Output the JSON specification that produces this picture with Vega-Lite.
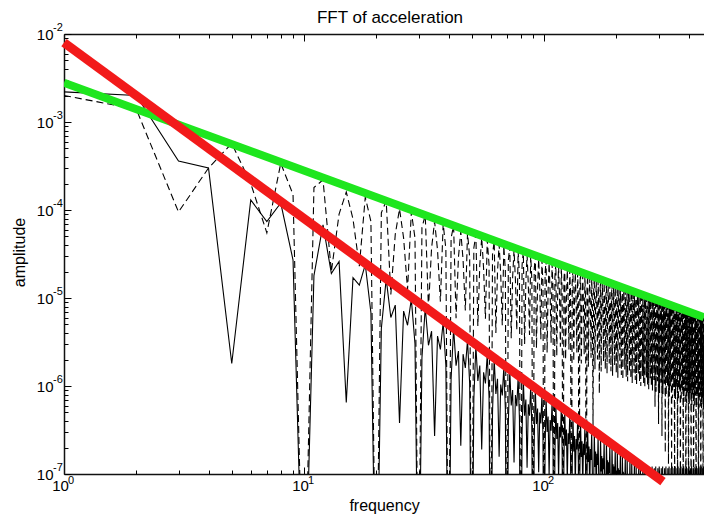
{
"$schema": "https://vega.github.io/schema/vega-lite/v6.json",
"autosize": {"type": "none"},
"width": 640, "height": 440,
"padding": {"left": 64, "top": 34, "right": 0, "bottom": 44},
"background": "white",
"config": {"view": {"stroke": null}, "axis": {"labelFont": "Liberation Sans", "titleFont": "Liberation Sans", "labelColor": "black", "titleColor": "black", "tickColor": "black", "domainColor": "#111", "domainWidth": 1.5, "tickWidth": 1, "grid": false, "labelFlush": false}},
"title": {"text": "FFT of acceleration", "anchor": "middle", "fontSize": 17, "fontWeight": "normal", "font": "Liberation Sans", "color": "black", "offset": 9, "dx": 6, "dy": 14},
"data": {"values": [
{"f":1,"s":2.2e-3,"d":2.0e-3},{"f":2,"s":2.0e-3,"d":1.4e-3},{"f":3,"s":3.6e-4,"d":9.5e-5},{"f":4,"s":3.0e-4,"d":3.0e-4},{"f":5,"s":1.8e-6,"d":5.7e-4},{"f":6,"s":1.3e-4,"d":2.0e-4},{"f":7,"s":7.4e-5,"d":5.5e-5},{"f":8,"s":1.2e-4,"d":3.4e-4},{"f":9,"s":2.7e-5,"d":1.5e-4},{"f":10,"s":1e-9,"d":1e-9},
{"f":11,"s":1.8e-5,"d":1.8e-4},{"f":12,"s":6.8e-5,"d":2.2e-4},{"f":13,"s":1.9e-5,"d":2.0e-5},{"f":14,"s":2.6e-5,"d":9.0e-5},{"f":15,"s":6.5e-7,"d":1.6e-4},{"f":16,"s":1.7e-5,"d":7.9e-5},{"f":17,"s":1.4e-5,"d":2.3e-5},{"f":18,"s":2.4e-5,"d":1.4e-4},{"f":19,"s":6.8e-6,"d":7.4e-5},{"f":20,"s":1e-9,"d":1e-9},
{"f":21,"s":4.5e-6,"d":9.3e-5},{"f":22,"s":1.65e-5,"d":1.27e-4},{"f":23,"s":6.0e-6,"d":1.1e-5},{"f":24,"s":8.3e-6,"d":5.3e-5},{"f":25,"s":3.8e-7,"d":1.03e-4},{"f":26,"s":7.1e-6,"d":4.8e-5},{"f":27,"s":4.9e-6,"d":1.24e-5},{"f":28,"s":9.7e-6,"d":9.5e-5},{"f":29,"s":3.0e-6,"d":4.8e-5},{"f":30,"s":1e-9,"d":1e-9},
{"f":31,"s":2.1e-6,"d":6.3e-5},{"f":32,"s":7.8e-6,"d":8.75e-5},{"f":33,"s":2.9e-6,"d":7.6e-6},{"f":34,"s":4.2e-6,"d":3.7e-5},{"f":35,"s":2.7e-7,"d":7.4e-5},{"f":36,"s":3.7e-6,"d":3.5e-5},{"f":37,"s":2.6e-6,"d":9.1e-6},{"f":38,"s":5.3e-6,"d":7.0e-5},{"f":39,"s":1.7e-6,"d":3.6e-5},{"f":40,"s":1e-9,"d":1e-9},
{"f":41,"s":1.2e-6,"d":4.8e-5},{"f":42,"s":4.5e-6,"d":6.67e-5},{"f":43,"s":1.7e-6,"d":5.9e-6},{"f":44,"s":2.5e-6,"d":2.9e-5},{"f":45,"s":2.1e-7,"d":5.7e-5},{"f":46,"s":2.3e-6,"d":2.7e-5},{"f":47,"s":1.6e-6,"d":7.2e-6},{"f":48,"s":3.3e-6,"d":5.5e-5},{"f":49,"s":1.07e-6,"d":2.9e-5},{"f":50,"s":1e-9,"d":1e-9},
{"f":51,"s":7.1e-7,"d":3.7e-5},{"f":52,"s":2.85e-6,"d":5.28e-5},{"f":53,"s":1.14e-6,"d":4.8e-6},{"f":54,"s":1.71e-6,"d":2.38e-5},{"f":55,"s":1.9e-7,"d":4.86e-5},{"f":56,"s":1.43e-6,"d":2.17e-5},{"f":57,"s":1.07e-6,"d":5.8e-6},{"f":58,"s":2.26e-6,"d":4.59e-5},{"f":59,"s":7.6e-7,"d":2.41e-5},{"f":60,"s":1e-9,"d":1e-9},
{"f":61,"s":5.0e-7,"d":3.11e-5},{"f":62,"s":2.02e-6,"d":4.44e-5},{"f":63,"s":8.1e-7,"d":4.0e-6},{"f":64,"s":1.21e-6,"d":2.0e-5},{"f":65,"s":1.57e-7,"d":4.09e-5},{"f":66,"s":1.04e-6,"d":1.85e-5},{"f":67,"s":7.8e-7,"d":4.9e-6},{"f":68,"s":1.64e-6,"d":3.91e-5},{"f":69,"s":5.5e-7,"d":2.06e-5},{"f":70,"s":1e-9,"d":1e-9},
{"f":71,"s":3.75e-7,"d":2.69e-5},{"f":72,"s":1.5e-6,"d":3.84e-5},{"f":73,"s":6.0e-7,"d":3.5e-6},{"f":74,"s":9.0e-7,"d":1.73e-5},{"f":75,"s":1.35e-7,"d":3.53e-5},{"f":76,"s":7.9e-7,"d":1.62e-5},{"f":77,"s":5.9e-7,"d":4.3e-6},{"f":78,"s":1.25e-6,"d":3.41e-5},{"f":79,"s":4.2e-7,"d":1.8e-5},{"f":80,"s":1e-9,"d":1e-9},
{"f":81,"s":2.9e-7,"d":2.36e-5},{"f":82,"s":1.16e-6,"d":3.37e-5},{"f":83,"s":4.6e-7,"d":3.0e-6},{"f":84,"s":7.0e-7,"d":1.52e-5},{"f":85,"s":1.18e-7,"d":3.1e-5},{"f":86,"s":6.2e-7,"d":1.43e-5},{"f":87,"s":4.6e-7,"d":3.8e-6},{"f":88,"s":9.8e-7,"d":3.02e-5},{"f":89,"s":3.3e-7,"d":1.59e-5},{"f":90,"s":1e-9,"d":1e-9},
{"f":91,"s":2.3e-7,"d":2.11e-5},{"f":92,"s":9.25e-7,"d":3.01e-5},{"f":93,"s":3.7e-7,"d":2.7e-6},{"f":94,"s":5.55e-7,"d":1.35e-5},{"f":95,"s":1.05e-7,"d":2.77e-5},{"f":96,"s":5.0e-7,"d":1.29e-5},{"f":97,"s":3.75e-7,"d":3.4e-6},{"f":98,"s":7.9e-7,"d":2.71e-5},{"f":99,"s":2.7e-7,"d":1.43e-5},{"f":100,"s":1e-9,"d":1e-9},
{"f":101,"s":1.9e-7,"d":1.9e-5},{"f":102,"s":7.5e-7,"d":2.72e-5},{"f":103,"s":3.0e-7,"d":2.4e-6},{"f":104,"s":4.5e-7,"d":1.22e-5},{"f":105,"s":9.5e-8,"d":2.5e-5},{"f":106,"s":4.1e-7,"d":1.17e-5},{"f":107,"s":3.1e-7,"d":3.1e-6},{"f":108,"s":6.5e-7,"d":2.46e-5},{"f":109,"s":2.2e-7,"d":1.3e-5},{"f":110,"s":1e-9,"d":1e-9},
{"f":111,"s":1.57e-7,"d":1.73e-5},{"f":112,"s":6.3e-7,"d":2.48e-5},{"f":113,"s":2.5e-7,"d":2.2e-6},{"f":114,"s":3.8e-7,"d":1.12e-5},{"f":115,"s":8.7e-8,"d":2.28e-5},{"f":116,"s":3.45e-7,"d":1.07e-5},{"f":117,"s":2.6e-7,"d":2.8e-6},{"f":118,"s":5.5e-7,"d":2.25e-5},{"f":119,"s":1.84e-7,"d":1.19e-5},{"f":120,"s":1e-9,"d":1e-9},
{"f":121,"s":1.32e-7,"d":1.59e-5},{"f":122,"s":5.3e-7,"d":2.28e-5},{"f":123,"s":2.1e-7,"d":2.0e-6},{"f":124,"s":3.2e-7,"d":1.02e-5},{"f":125,"s":7.9e-8,"d":2.09e-5},{"f":126,"s":2.9e-7,"d":9.8e-6},{"f":127,"s":2.2e-7,"d":2.6e-6},{"f":128,"s":4.6e-7,"d":2.08e-5},{"f":129,"s":1.56e-7,"d":1.09e-5},{"f":130,"s":1e-9,"d":1e-9},
{"f":131,"s":1.13e-7,"d":1.47e-5},{"f":132,"s":4.5e-7,"d":2.1e-5},{"f":133,"s":1.8e-7,"d":1.9e-6},{"f":134,"s":2.7e-7,"d":9.5e-6},{"f":135,"s":7.3e-8,"d":1.94e-5},{"f":136,"s":2.5e-7,"d":9.1e-6},{"f":137,"s":1.9e-7,"d":2.4e-6},{"f":138,"s":4.0e-7,"d":1.93e-5},{"f":139,"s":1.34e-7,"d":1.01e-5},{"f":140,"s":1e-9,"d":1e-9},
{"f":141,"s":9.8e-8,"d":1.37e-5},{"f":142,"s":3.9e-7,"d":1.96e-5},{"f":143,"s":1.56e-7,"d":1.8e-6},{"f":144,"s":2.35e-7,"d":8.8e-6},{"f":145,"s":6.8e-8,"d":1.8e-5},{"f":146,"s":2.2e-7,"d":8.5e-6},{"f":147,"s":1.64e-7,"d":2.3e-6},{"f":148,"s":3.5e-7,"d":1.8e-5},{"f":149,"s":1.17e-7,"d":9.5e-6},{"f":150,"s":1e-9,"d":1e-9},
{"f":151,"s":8.6e-8,"d":1.28e-5},{"f":152,"s":3.4e-7,"d":1.83e-5},{"f":153,"s":1.37e-7,"d":1.65e-6},{"f":154,"s":2.05e-7,"d":8.2e-6},{"f":155,"s":6.4e-8,"d":1.68e-5},{"f":156,"s":1.92e-7,"d":8.0e-6},{"f":157,"s":1.44e-7,"d":2.1e-6},{"f":158,"s":3.0e-7,"d":1.68e-5},{"f":159,"s":1.02e-7,"d":8.9e-6},{"f":160,"s":1e-9,"d":3.5e-7},
{"f":161,"s":7.5e-8,"d":1.2e-5},{"f":162,"s":3.0e-7,"d":1.72e-5},{"f":163,"s":1.2e-7,"d":1.55e-6},{"f":164,"s":1.8e-7,"d":7.7e-6},{"f":165,"s":6.0e-8,"d":1.58e-5},{"f":166,"s":1.7e-7,"d":7.5e-6},{"f":167,"s":1.27e-7,"d":2.0e-6},{"f":168,"s":2.7e-7,"d":1.58e-5},{"f":169,"s":9.1e-8,"d":8.3e-6},{"f":170,"s":1e-9,"d":8.2e-7},
{"f":171,"s":6.7e-8,"d":1.13e-5},{"f":172,"s":2.67e-7,"d":1.62e-5},{"f":173,"s":1.07e-7,"d":1.46e-6},{"f":174,"s":1.6e-7,"d":7.3e-6},{"f":175,"s":5.6e-8,"d":1.49e-5},{"f":176,"s":1.51e-7,"d":7.1e-6},{"f":177,"s":1.13e-7,"d":1.9e-6},{"f":178,"s":2.4e-7,"d":1.49e-5},{"f":179,"s":8.1e-8,"d":7.9e-6},{"f":180,"s":1e-9,"d":1.56e-6},
{"f":181,"s":6.0e-8,"d":1.07e-5},{"f":182,"s":2.39e-7,"d":1.53e-5},{"f":183,"s":9.6e-8,"d":1.38e-6},{"f":184,"s":1.43e-7,"d":6.9e-6},{"f":185,"s":5.3e-8,"d":1.41e-5},{"f":186,"s":1.36e-7,"d":6.7e-6},{"f":187,"s":1.02e-7,"d":1.8e-6},{"f":188,"s":2.15e-7,"d":1.41e-5},{"f":189,"s":7.2e-8,"d":7.4e-6},{"f":190,"s":1e-9,"d":1.47e-6},
{"f":191,"s":5.4e-8,"d":1.02e-5},{"f":192,"s":2.15e-7,"d":1.45e-5},{"f":193,"s":8.6e-8,"d":1.31e-6},{"f":194,"s":1.29e-7,"d":6.5e-6},{"f":195,"s":5.0e-8,"d":1.33e-5},{"f":196,"s":1.22e-7,"d":6.4e-6},{"f":197,"s":9.2e-8,"d":1.7e-6},{"f":198,"s":1.94e-7,"d":1.34e-5},{"f":199,"s":6.5e-8,"d":7.1e-6},{"f":200,"s":1e-9,"d":1.4e-6},
{"f":201,"s":4.9e-8,"d":9.7e-6},{"f":202,"s":1.94e-7,"d":1.38e-5},{"f":203,"s":7.8e-8,"d":1.24e-6},{"f":204,"s":1.16e-7,"d":6.2e-6},{"f":205,"s":4.8e-8,"d":1.27e-5},{"f":206,"s":1.11e-7,"d":6.1e-6},{"f":207,"s":8.3e-8,"d":1.6e-6},{"f":208,"s":1.76e-7,"d":1.28e-5},{"f":209,"s":5.9e-8,"d":6.7e-6},{"f":210,"s":1e-9,"d":1.33e-6},
{"f":211,"s":4.4e-8,"d":9.2e-6},{"f":212,"s":1.76e-7,"d":1.32e-5},{"f":213,"s":7.0e-8,"d":1.18e-6},{"f":214,"s":1.06e-7,"d":5.9e-6},{"f":215,"s":4.5e-8,"d":1.21e-5},{"f":216,"s":1.01e-7,"d":5.8e-6},{"f":217,"s":7.6e-8,"d":1.54e-6},{"f":218,"s":1.6e-7,"d":1.22e-5},{"f":219,"s":5.4e-8,"d":6.4e-6},{"f":220,"s":1e-9,"d":1.27e-6},
{"f":221,"s":4.0e-8,"d":8.8e-6},{"f":222,"s":1.61e-7,"d":1.26e-5},{"f":223,"s":6.4e-8,"d":1.13e-6},{"f":224,"s":9.7e-8,"d":5.7e-6},{"f":225,"s":4.3e-8,"d":1.16e-5},{"f":226,"s":9.2e-8,"d":5.5e-6},{"f":227,"s":6.9e-8,"d":1.47e-6},{"f":228,"s":1.46e-7,"d":1.17e-5},{"f":229,"s":4.9e-8,"d":6.1e-6},{"f":230,"s":1e-9,"d":1.22e-6},
{"f":231,"s":3.7e-8,"d":8.4e-6},{"f":232,"s":1.47e-7,"d":1.2e-5},{"f":233,"s":5.9e-8,"d":1.08e-6},{"f":234,"s":8.8e-8,"d":5.4e-6},{"f":235,"s":4.1e-8,"d":1.11e-5},{"f":236,"s":8.5e-8,"d":5.3e-6},{"f":237,"s":6.3e-8,"d":1.41e-6},{"f":238,"s":1.34e-7,"d":1.12e-5},{"f":239,"s":4.5e-8,"d":5.9e-6},{"f":240,"s":1e-9,"d":1.17e-6},
{"f":241,"s":3.4e-8,"d":8.1e-6},{"f":242,"s":1.35e-7,"d":1.15e-5},{"f":243,"s":5.4e-8,"d":1.04e-6},{"f":244,"s":8.1e-8,"d":5.2e-6},{"f":245,"s":4.0e-8,"d":1.06e-5},{"f":246,"s":7.8e-8,"d":5.1e-6},{"f":247,"s":5.9e-8,"d":1.35e-6},{"f":248,"s":1.24e-7,"d":1.07e-5},{"f":249,"s":4.2e-8,"d":5.6e-6},{"f":250,"s":1e-9,"d":1.12e-6},
{"f":251,"s":3.0e-8,"d":7.7e-6},{"f":252,"s":1.22e-7,"d":1.11e-5},{"f":253,"s":4.9e-8,"d":1.0e-6},{"f":254,"s":7.3e-8,"d":5.0e-6},{"f":255,"s":3.7e-8,"d":1.02e-5},{"f":256,"s":7.3e-8,"d":4.9e-6},{"f":257,"s":5.5e-8,"d":1.3e-6},{"f":258,"s":1.16e-7,"d":1.03e-5},{"f":259,"s":3.9e-8,"d":5.4e-6},{"f":260,"s":1e-9,"d":1.08e-6},
{"f":261,"s":3.0e-8,"d":7.5e-6},{"f":262,"s":1.22e-7,"d":1.07e-5},{"f":263,"s":4.9e-8,"d":9.6e-7},{"f":264,"s":7.3e-8,"d":4.8e-6},{"f":265,"s":3.7e-8,"d":9.8e-6},{"f":266,"s":7.3e-8,"d":4.7e-6},{"f":267,"s":5.5e-8,"d":1.25e-6},{"f":268,"s":1.16e-7,"d":9.9e-6},{"f":269,"s":3.9e-8,"d":5.2e-6},{"f":270,"s":1e-9,"d":1.04e-6},
{"f":271,"s":3.0e-8,"d":7.2e-6},{"f":272,"s":1.22e-7,"d":1.03e-5},{"f":273,"s":4.9e-8,"d":9.2e-7},{"f":274,"s":7.3e-8,"d":4.6e-6},{"f":275,"s":3.7e-8,"d":9.4e-6},{"f":276,"s":7.3e-8,"d":4.5e-6},{"f":277,"s":5.5e-8,"d":1.21e-6},{"f":278,"s":1.16e-7,"d":9.6e-6},{"f":279,"s":3.9e-8,"d":5.0e-6},{"f":280,"s":1e-9,"d":1.0e-6},
{"f":281,"s":3.0e-8,"d":6.9e-6},{"f":282,"s":1.22e-7,"d":9.9e-6},{"f":283,"s":4.9e-8,"d":8.9e-7},{"f":284,"s":7.3e-8,"d":4.5e-6},{"f":285,"s":3.7e-8,"d":9.1e-6},{"f":286,"s":7.3e-8,"d":4.4e-6},{"f":287,"s":5.5e-8,"d":1.17e-6},{"f":288,"s":1.16e-7,"d":9.2e-6},{"f":289,"s":3.9e-8,"d":4.9e-6},{"f":290,"s":1e-9,"d":5.8e-7},
{"f":291,"s":3.0e-8,"d":6.7e-6},{"f":292,"s":1.22e-7,"d":9.6e-6},{"f":293,"s":4.9e-8,"d":8.6e-7},{"f":294,"s":7.3e-8,"d":4.3e-6},{"f":295,"s":3.7e-8,"d":8.8e-6},{"f":296,"s":7.3e-8,"d":4.2e-6},{"f":297,"s":5.5e-8,"d":1.13e-6},{"f":298,"s":1.16e-7,"d":8.9e-6},{"f":299,"s":3.9e-8,"d":4.7e-6},{"f":300,"s":1e-9,"d":3.7e-7},
{"f":301,"s":3.0e-8,"d":6.5e-6},{"f":302,"s":1.22e-7,"d":9.2e-6},{"f":303,"s":4.9e-8,"d":8.3e-7},{"f":304,"s":7.3e-8,"d":4.2e-6},{"f":305,"s":3.7e-8,"d":8.5e-6},{"f":306,"s":7.3e-8,"d":4.1e-6},{"f":307,"s":5.5e-8,"d":1.09e-6},{"f":308,"s":1.16e-7,"d":8.6e-6},{"f":309,"s":3.9e-8,"d":4.5e-6},{"f":310,"s":1e-9,"d":2.7e-7},
{"f":311,"s":3.0e-8,"d":6.3e-6},{"f":312,"s":1.22e-7,"d":9.0e-6},{"f":313,"s":4.9e-8,"d":8.1e-7},{"f":314,"s":7.3e-8,"d":4.0e-6},{"f":315,"s":3.7e-8,"d":8.2e-6},{"f":316,"s":7.3e-8,"d":4.0e-6},{"f":317,"s":5.5e-8,"d":1.06e-6},{"f":318,"s":1.16e-7,"d":8.4e-6},{"f":319,"s":3.9e-8,"d":4.4e-6},{"f":320,"s":1e-9,"d":1.75e-7},
{"f":321,"s":3.0e-8,"d":6.1e-6},{"f":322,"s":1.22e-7,"d":8.7e-6},{"f":323,"s":4.9e-8,"d":7.8e-7},{"f":324,"s":7.3e-8,"d":3.9e-6},{"f":325,"s":3.7e-8,"d":8.0e-6},{"f":326,"s":7.3e-8,"d":3.8e-6},{"f":327,"s":5.5e-8,"d":1.02e-6},{"f":328,"s":1.16e-7,"d":8.1e-6},{"f":329,"s":3.9e-8,"d":4.3e-6},{"f":330,"s":1e-9,"d":1.3e-7},
{"f":331,"s":3.0e-8,"d":5.9e-6},{"f":332,"s":1.22e-7,"d":8.4e-6},{"f":333,"s":4.9e-8,"d":7.6e-7},{"f":334,"s":7.3e-8,"d":3.8e-6},{"f":335,"s":3.7e-8,"d":7.7e-6},{"f":336,"s":7.3e-8,"d":3.7e-6},{"f":337,"s":5.5e-8,"d":9.9e-7},{"f":338,"s":1.16e-7,"d":7.9e-6},{"f":339,"s":3.9e-8,"d":4.1e-6},{"f":340,"s":1e-9,"d":8e-8},
{"f":341,"s":3.0e-8,"d":5.7e-6},{"f":342,"s":1.22e-7,"d":8.2e-6},{"f":343,"s":4.9e-8,"d":7.3e-7},{"f":344,"s":7.3e-8,"d":3.7e-6},{"f":345,"s":3.7e-8,"d":7.5e-6},{"f":346,"s":7.3e-8,"d":3.6e-6},{"f":347,"s":5.5e-8,"d":9.7e-7},{"f":348,"s":1.16e-7,"d":7.6e-6},{"f":349,"s":3.9e-8,"d":4.0e-6},{"f":350,"s":1e-9,"d":4e-8},
{"f":351,"s":3.0e-8,"d":5.6e-6},{"f":352,"s":1.22e-7,"d":7.9e-6},{"f":353,"s":4.9e-8,"d":7.1e-7},{"f":354,"s":7.3e-8,"d":3.6e-6},{"f":355,"s":3.7e-8,"d":7.3e-6},{"f":356,"s":7.3e-8,"d":3.5e-6},{"f":357,"s":5.5e-8,"d":9.4e-7},{"f":358,"s":1.16e-7,"d":7.4e-6},{"f":359,"s":3.9e-8,"d":3.9e-6},{"f":360,"s":1e-9,"d":4e-8},
{"f":361,"s":3.0e-8,"d":5.4e-6},{"f":362,"s":1.22e-7,"d":7.7e-6},{"f":363,"s":4.9e-8,"d":6.9e-7},{"f":364,"s":7.3e-8,"d":3.5e-6},{"f":365,"s":3.7e-8,"d":7.1e-6},{"f":366,"s":7.3e-8,"d":3.4e-6},{"f":367,"s":5.5e-8,"d":9.1e-7},{"f":368,"s":1.16e-7,"d":7.2e-6},{"f":369,"s":3.9e-8,"d":3.8e-6},{"f":370,"s":1e-9,"d":3e-8},
{"f":371,"s":3.0e-8,"d":5.3e-6},{"f":372,"s":1.22e-7,"d":7.5e-6},{"f":373,"s":4.9e-8,"d":6.8e-7},{"f":374,"s":7.3e-8,"d":3.4e-6},{"f":375,"s":3.7e-8,"d":6.9e-6},{"f":376,"s":7.3e-8,"d":3.3e-6},{"f":377,"s":5.5e-8,"d":8.9e-7},{"f":378,"s":1.16e-7,"d":7.0e-6},{"f":379,"s":3.9e-8,"d":3.7e-6},{"f":380,"s":1e-9,"d":1e-8},
{"f":381,"s":3.0e-8,"d":5.1e-6},{"f":382,"s":1.22e-7,"d":7.3e-6},{"f":383,"s":4.9e-8,"d":6.6e-7},{"f":384,"s":7.3e-8,"d":3.3e-6},{"f":385,"s":3.7e-8,"d":6.7e-6},{"f":386,"s":7.3e-8,"d":3.2e-6},{"f":387,"s":5.5e-8,"d":8.7e-7},{"f":388,"s":1.16e-7,"d":6.9e-6},{"f":389,"s":3.9e-8,"d":3.6e-6},{"f":390,"s":1e-9,"d":1e-9},
{"f":391,"s":3.0e-8,"d":5.0e-6},{"f":392,"s":1.22e-7,"d":7.1e-6},{"f":393,"s":4.9e-8,"d":6.4e-7},{"f":394,"s":7.3e-8,"d":3.2e-6},{"f":395,"s":3.7e-8,"d":6.6e-6},{"f":396,"s":7.3e-8,"d":3.2e-6},{"f":397,"s":5.5e-8,"d":8.4e-7},{"f":398,"s":1.16e-7,"d":6.7e-6},{"f":399,"s":3.9e-8,"d":3.5e-6},{"f":400,"s":1e-9,"d":1e-9},
{"f":401,"s":3.0e-8,"d":4.9e-6},{"f":402,"s":1.22e-7,"d":6.9e-6},{"f":403,"s":4.9e-8,"d":6.3e-7},{"f":404,"s":7.3e-8,"d":3.1e-6},{"f":405,"s":3.7e-8,"d":6.4e-6},{"f":406,"s":7.3e-8,"d":3.1e-6},{"f":407,"s":5.5e-8,"d":8.2e-7},{"f":408,"s":1.16e-7,"d":6.5e-6},{"f":409,"s":3.9e-8,"d":3.4e-6},{"f":410,"s":1e-9,"d":1e-9},
{"f":411,"s":3.0e-8,"d":4.7e-6},{"f":412,"s":1.22e-7,"d":6.8e-6},{"f":413,"s":4.9e-8,"d":6.1e-7},{"f":414,"s":7.3e-8,"d":3.1e-6},{"f":415,"s":3.7e-8,"d":6.2e-6},{"f":416,"s":7.3e-8,"d":3.0e-6},{"f":417,"s":5.5e-8,"d":8.0e-7},{"f":418,"s":1.16e-7,"d":6.4e-6},{"f":419,"s":3.9e-8,"d":3.4e-6},{"f":420,"s":1e-9,"d":1e-9},
{"f":421,"s":3.0e-8,"d":4.6e-6},{"f":422,"s":1.22e-7,"d":6.6e-6},{"f":423,"s":4.9e-8,"d":6.0e-7},{"f":424,"s":7.3e-8,"d":3.0e-6},{"f":425,"s":3.7e-8,"d":6.1e-6},{"f":426,"s":7.3e-8,"d":2.9e-6},{"f":427,"s":5.5e-8,"d":7.8e-7},{"f":428,"s":1.16e-7,"d":6.2e-6},{"f":429,"s":3.9e-8,"d":3.3e-6},{"f":430,"s":1e-9,"d":1e-9},
{"f":431,"s":3.0e-8,"d":4.5e-6},{"f":432,"s":1.22e-7,"d":6.5e-6},{"f":433,"s":4.9e-8,"d":5.8e-7},{"f":434,"s":7.3e-8,"d":2.9e-6},{"f":435,"s":3.7e-8,"d":6.0e-6},{"f":436,"s":7.3e-8,"d":2.9e-6},{"f":437,"s":5.5e-8,"d":7.7e-7},{"f":438,"s":1.16e-7,"d":6.1e-6},{"f":439,"s":3.9e-8,"d":3.2e-6},{"f":440,"s":1e-9,"d":1e-9},
{"f":441,"s":3.0e-8,"d":4.4e-6},{"f":442,"s":1.22e-7,"d":6.3e-6},{"f":443,"s":4.9e-8,"d":5.7e-7},{"f":444,"s":7.3e-8,"d":2.8e-6},{"f":445,"s":3.7e-8,"d":5.8e-6},{"f":446,"s":7.3e-8,"d":2.8e-6},{"f":447,"s":5.5e-8,"d":7.5e-7},{"f":448,"s":1.16e-7,"d":5.9e-6},{"f":449,"s":3.9e-8,"d":3.1e-6},{"f":450,"s":1e-9,"d":1e-9},
{"f":451,"s":3.0e-8,"d":4.3e-6},{"f":452,"s":1.22e-7,"d":6.2e-6},{"f":453,"s":4.9e-8,"d":5.6e-7},{"f":454,"s":7.3e-8,"d":2.8e-6},{"f":455,"s":3.7e-8,"d":5.7e-6},{"f":456,"s":7.3e-8,"d":2.7e-6},{"f":457,"s":5.5e-8,"d":7.3e-7},{"f":458,"s":1.16e-7,"d":5.8e-6},{"f":459,"s":3.9e-8,"d":3.1e-6},{"f":460,"s":1e-9,"d":1e-9},
{"f":461,"s":3.0e-8,"d":4.2e-6},{"f":462,"s":1.22e-7,"d":6.06e-6},{"f":463,"s":4.9e-8,"d":5.4e-7},{"f":464,"s":7.3e-8,"d":2.7e-6},{"f":465,"s":3.7e-8,"d":5.5e-6}
]},
"layer": [
{"mark": {"type": "line", "color": "black", "strokeWidth": 1.1, "clip": true},
 "encoding": {
  "x": {"field": "f", "type": "quantitative", "scale": {"type": "log", "domain": [1, 464], "nice": false},
        "axis": {"orient": "bottom", "values": [1, 10, 100], "tickSize": -7, "labelPadding": 11, "labelOffset": -4, "labelFlush": false, "labelFontSize": 15, "labelExpr": "'10'", "title": "frequency", "titleFontSize": 16, "titleFontWeight": "normal", "titleX": 320, "titleY": 23, "titleBaseline": "top"}},
  "y": {"field": "s", "type": "quantitative", "scale": {"type": "log", "domain": [1e-7, 1e-2], "nice": false},
        "axis": {"orient": "left", "values": [1e-7, 1e-6, 1e-5, 1e-4, 1e-3, 1e-2], "tickSize": -7, "labelPadding": 18, "labelFlush": false, "labelFontSize": 15, "labelExpr": "'10'", "title": "amplitude", "titleFontSize": 16, "titleFontWeight": "normal", "titleX": -45, "titleY": 218, "titleBaseline": "middle", "titleAngle": -90}}
 }},
{"mark": {"type": "line", "color": "black", "strokeWidth": 1.1, "strokeDash": [7, 4], "clip": true},
 "encoding": {
  "x": {"field": "f", "type": "quantitative", "axis": {"orient": "bottom", "values": [2,3,4,5,6,7,8,9,20,30,40,50,60,70,80,90,200,300,400], "tickSize": -4, "labels": false, "domain": false, "title": null}},
  "y": {"field": "d", "type": "quantitative", "axis": {"orient": "left", "values": [2e-7,3e-7,4e-7,5e-7,6e-7,7e-7,8e-7,9e-7,2e-6,3e-6,4e-6,5e-6,6e-6,7e-6,8e-6,9e-6,2e-5,3e-5,4e-5,5e-5,6e-5,7e-5,8e-5,9e-5,2e-4,3e-4,4e-4,5e-4,6e-4,7e-4,8e-4,9e-4,2e-3,3e-3,4e-3,5e-3,6e-3,7e-3,8e-3,9e-3], "tickSize": -4, "labels": false, "domain": false, "title": null}}
 }},
{"data": {"values": [{"f": 1, "g": 2.8e-3}, {"f": 464, "g": 6.03e-6}]},
 "mark": {"type": "line", "color": "#1ee61e", "strokeWidth": 8, "strokeCap": "butt", "clip": true},
 "encoding": {
  "x": {"field": "f", "type": "quantitative", "axis": {"orient": "top", "values": [1, 10, 100], "tickSize": -7, "labels": false, "title": null}},
  "y": {"field": "g", "type": "quantitative", "axis": null}
 }},
{"data": {"values": [{"f": 1, "r": 8.0e-3}, {"f": 313, "r": 8.2e-8}]},
 "mark": {"type": "line", "color": "#f21a1a", "strokeWidth": 9, "strokeCap": "butt", "clip": false},
 "encoding": {
  "x": {"field": "f", "type": "quantitative", "axis": {"orient": "top", "values": [2,3,4,5,6,7,8,9,20,30,40,50,60,70,80,90,200,300,400], "tickSize": -4, "labels": false, "domain": false, "title": null}},
  "y": {"field": "r", "type": "quantitative", "axis": null}
 }},
{"data": {"values": [{"v": 1e-2, "e": "-2"}, {"v": 1e-3, "e": "-3"}, {"v": 1e-4, "e": "-4"}, {"v": 1e-5, "e": "-5"}, {"v": 1e-6, "e": "-6"}, {"v": 1e-7, "e": "-7"}]},
 "mark": {"type": "text", "font": "Liberation Sans", "fontSize": 11, "align": "left", "baseline": "middle", "dx": -11, "dy": -6, "color": "black", "clip": false},
 "encoding": {
  "x": {"datum": 1, "type": "quantitative", "axis": null},
  "y": {"field": "v", "type": "quantitative", "axis": null},
  "text": {"field": "e"}
 }},
{"data": {"values": [{"f": 1, "e": "0"}, {"f": 10, "e": "1"}, {"f": 100, "e": "2"}]},
 "mark": {"type": "text", "font": "Liberation Sans", "fontSize": 11, "align": "left", "baseline": "middle", "dx": 4, "dy": 7, "color": "black", "clip": false},
 "encoding": {
  "x": {"field": "f", "type": "quantitative", "axis": null},
  "y": {"datum": 1e-7, "type": "quantitative", "axis": null},
  "text": {"field": "e"}
 }}
],
"resolve": {"axis": {"x": "independent", "y": "independent"}}
}
